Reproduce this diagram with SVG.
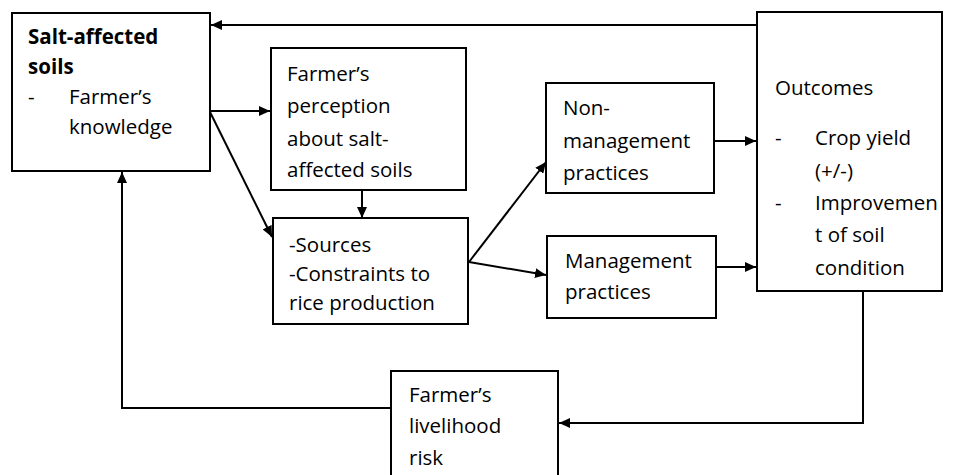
<svg xmlns="http://www.w3.org/2000/svg" width="954" height="475" viewBox="0 0 954 475">
<style>
.box{fill:#fff;stroke:#000;stroke-width:2}
.t{font-family:"Open Sans","Liberation Sans",sans-serif;font-size:20.5px;fill:#000}
.b{font-weight:bold}
.c{fill:none;stroke:#000;stroke-width:2}
</style>
<defs>
<marker id="ah" markerUnits="userSpaceOnUse" markerWidth="12" markerHeight="10" refX="11" refY="5" orient="auto">
<path d="M0,0 L11,5 L0,10 z" fill="#000"/>
</marker>
</defs>
<rect width="954" height="475" fill="#fff"/>
<g id="salt">
<rect class="box" x="12" y="13" width="198" height="158"/>
<text class="t b" x="28" y="44">Salt-affected</text>
<text class="t b" x="28" y="74">soils</text>
<text class="t" x="28" y="104">-</text>
<text class="t" x="69" y="104">Farmer’s</text>
<text class="t" x="69" y="134">knowledge</text>
</g>
<g id="perception">
<rect class="box" x="271" y="48" width="195" height="142"/>
<text class="t" x="287" y="81">Farmer’s</text>
<text class="t" x="287" y="113">perception</text>
<text class="t" x="287" y="146">about salt-</text>
<text class="t" x="287" y="177">affected soils</text>
</g>
<g id="sources">
<rect class="box" x="273" y="218" width="195" height="106"/>
<text class="t" x="289" y="252">-Sources</text>
<text class="t" x="289" y="281">-Constraints to</text>
<text class="t" x="289" y="310">rice production</text>
</g>
<g id="nonmgmt">
<rect class="box" x="546" y="83" width="168" height="110"/>
<text class="t" x="563" y="115">Non-</text>
<text class="t" x="563" y="148">management</text>
<text class="t" x="563" y="180">practices</text>
</g>
<g id="mgmt">
<rect class="box" x="547" y="236" width="169" height="82"/>
<text class="t" x="565" y="268">Management</text>
<text class="t" x="565" y="299">practices</text>
</g>
<g id="outcomes">
<rect class="box" x="757" y="12" width="185" height="279"/>
<text class="t" x="775" y="95">Outcomes</text>
<text class="t" x="775" y="145">-</text>
<text class="t" x="815" y="145">Crop yield</text>
<text class="t" x="815" y="178">(+/-)</text>
<text class="t" x="775" y="210">-</text>
<text class="t" x="815" y="210">Improvemen</text>
<text class="t" x="815" y="242">t of soil</text>
<text class="t" x="815" y="275">condition</text>
</g>
<g id="livelihood">
<rect class="box" x="391" y="371" width="167" height="112"/>
<text class="t" x="409" y="402">Farmer’s</text>
<text class="t" x="409" y="433">livelihood</text>
<text class="t" x="409" y="465">risk</text>
</g>
<g id="connectors">
<path class="c" d="M757,25 L211,25" marker-end="url(#ah)"/>
<path class="c" d="M210,111 L270,111" marker-end="url(#ah)"/>
<path class="c" d="M210,112 L272,237" marker-end="url(#ah)"/>
<path class="c" d="M362,190 L362,218" marker-end="url(#ah)"/>
<path class="c" d="M469,262 L546,162" marker-end="url(#ah)"/>
<path class="c" d="M469,262 L546,275" marker-end="url(#ah)"/>
<path class="c" d="M714,141 L756,141" marker-end="url(#ah)"/>
<path class="c" d="M716,267 L756,267" marker-end="url(#ah)"/>
<path class="c" d="M863,291 L863,423 L559,423" marker-end="url(#ah)"/>
<path class="c" d="M391,408 L122,408 L122,172" marker-end="url(#ah)"/>
</g>
</svg>
